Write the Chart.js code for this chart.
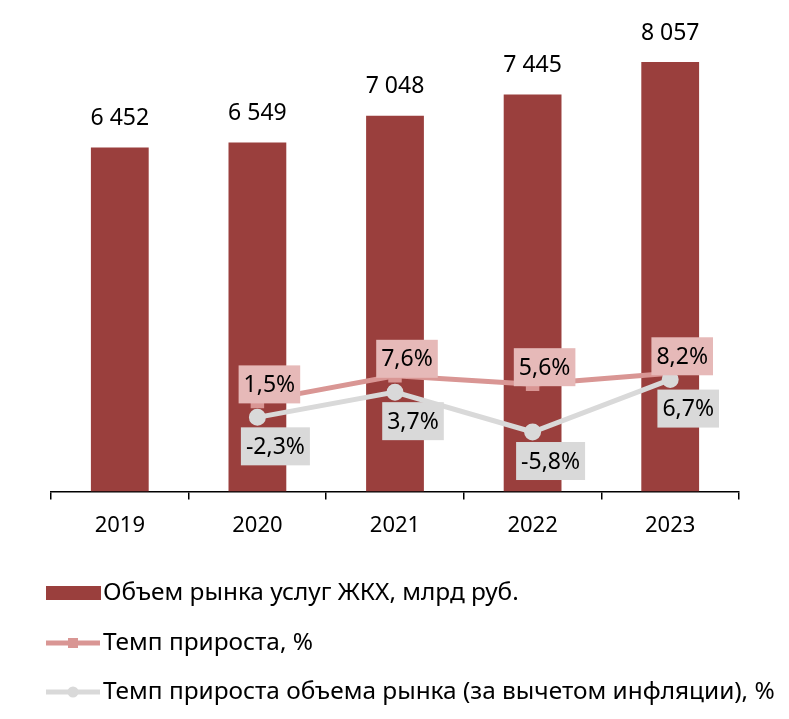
<!DOCTYPE html>
<html lang="ru">
<head>
  <meta charset="UTF-8">
  <title>Объем рынка услуг ЖКХ</title>
  <script src="https://cdn.jsdelivr.net/npm/chart.js"></script>
  <style>
    html, body { margin: 0; padding: 0; background: #fff; }
    #wrap { width: 789px; height: 719px; }
  </style>
</head>
<body>
  <div id="wrap"><canvas id="chart" width="789" height="719"></canvas></div>

  <script>
    // данные
    const years = ['2019', '2020', '2021', '2022', '2023'];
    const marketVolume = [6452, 6549, 7048, 7445, 8057];
    const growthRate = [null, 1.5, 7.6, 5.6, 8.2];
    const realGrowthRate = [null, -2.3, 3.7, -5.8, 6.7];

    const FONT = "'Noto Sans', sans-serif";
    const barColor = '#9a3f3d';
    const pinkLine = '#d99694';
    const pinkBox = '#e6b9b8';
    const greyLine = '#d9d9d9';

    const fmtNum = v => String(v).replace(/\B(?=(\d{3})+(?!\d))/g, ' ');
    const fmtPct = v => v.toFixed(1).replace('.', ',') + '%';

    // подписи значений
    const labelsPlugin = {
      id: 'valueLabels',
      afterDatasetsDraw(chart) {
        const c = chart.ctx;
        c.save();
        c.textAlign = 'center';
        c.textBaseline = 'middle';

        // столбцы
        c.font = '23px ' + FONT;
        c.fillStyle = '#000';
        chart.getDatasetMeta(0).data.forEach((bar, i) => {
          c.fillText(fmtNum(marketVolume[i]), bar.x, bar.y - 29);
        });

        // линии: розовая над точкой, серая под точкой
        const drawBox = (pt, text, bg, dx, dy) => {
          const w = c.measureText(text).width + 10;
          const h = 38;
          const cx = pt.x + dx, cy = pt.y + dy;
          c.fillStyle = bg;
          c.fillRect(cx - w / 2, cy - h / 2, w, h);
          c.fillStyle = '#000';
          c.fillText(text, cx, cy + 1);
        };
        chart.getDatasetMeta(1).data.forEach((pt, i) => {
          if (growthRate[i] == null) return;
          drawBox(pt, fmtPct(growthRate[i]), pinkBox, 12, -17);
        });
        chart.getDatasetMeta(2).data.forEach((pt, i) => {
          if (realGrowthRate[i] == null) return;
          drawBox(pt, fmtPct(realGrowthRate[i]), greyLine, 18, 29);
        });
        c.restore();
      }
    };

    // легенда столбиком внизу
    const legendPlugin = {
      id: 'stackLegend',
      afterDraw(chart) {
        const c = chart.ctx;
        const rows = [593, 643, 692];
        c.save();
        c.font = '24.4px ' + FONT;
        c.textBaseline = 'middle';
        c.textAlign = 'left';
        chart.data.datasets.forEach((ds, i) => {
          const y = rows[i];
          if (ds.type === 'bar') {
            c.fillStyle = ds.backgroundColor;
            c.fillRect(46, y - 7, 55, 14);
          } else {
            c.strokeStyle = ds.borderColor;
            c.lineWidth = 5;
            c.beginPath();
            c.moveTo(46, y);
            c.lineTo(100, y);
            c.stroke();
            c.fillStyle = ds.pointBackgroundColor;
            if (ds.pointStyle === 'rect') {
              c.fillRect(68, y - 5, 10, 10);
            } else {
              c.beginPath();
              c.arc(73, y, 5.5, 0, Math.PI * 2);
              c.fill();
            }
          }
          c.fillStyle = '#000';
          c.fillText(ds.label, 103, y);
        });
        c.restore();
      }
    };

    new Chart(document.getElementById('chart'), {
      data: {
        labels: years,
        datasets: [
          {
            type: 'bar',
            label: 'Объем рынка услуг ЖКХ, млрд руб.',
            data: marketVolume,
            backgroundColor: barColor,
            barPercentage: 0.42,
            categoryPercentage: 1,
            yAxisID: 'y',
            order: 3
          },
          {
            type: 'line',
            label: 'Темп прироста, %',
            data: growthRate,
            borderColor: pinkLine,
            backgroundColor: pinkLine,
            pointBackgroundColor: pinkLine,
            pointBorderColor: pinkLine,
            borderWidth: 5,
            pointStyle: 'rect',
            pointRadius: 6,
            yAxisID: 'y1',
            order: 2
          },
          {
            type: 'line',
            label: 'Темп прироста объема рынка (за вычетом инфляции), %',
            data: realGrowthRate,
            borderColor: greyLine,
            backgroundColor: greyLine,
            pointBackgroundColor: greyLine,
            pointBorderColor: greyLine,
            borderWidth: 5,
            pointStyle: 'circle',
            pointRadius: 6,
            yAxisID: 'y1',
            order: 1
          }
        ]
      },
      options: {
        responsive: false,
        animation: false,
        layout: { padding: { top: 20, left: 51, right: 50, bottom: 167 } },
        plugins: {
          legend: { display: false },
          tooltip: { enabled: false }
        },
        scales: {
          x: {
            offset: true,
            grid: {
              offset: true,
              drawOnChartArea: false,
              drawTicks: true,
              tickLength: 8,
              color: '#000',
              lineWidth: 1.5
            },
            border: { display: true, color: '#000', width: 1.5 },
            ticks: {
              color: '#000',
              padding: 13,
              font: { family: FONT, size: 22 }
            }
          },
          y: { display: false, min: 0, max: 8844 },
          y1: { display: false, min: -20, max: 92.4 }
        }
      },
      plugins: [labelsPlugin, legendPlugin]
    });
  </script>
</body>
</html>
